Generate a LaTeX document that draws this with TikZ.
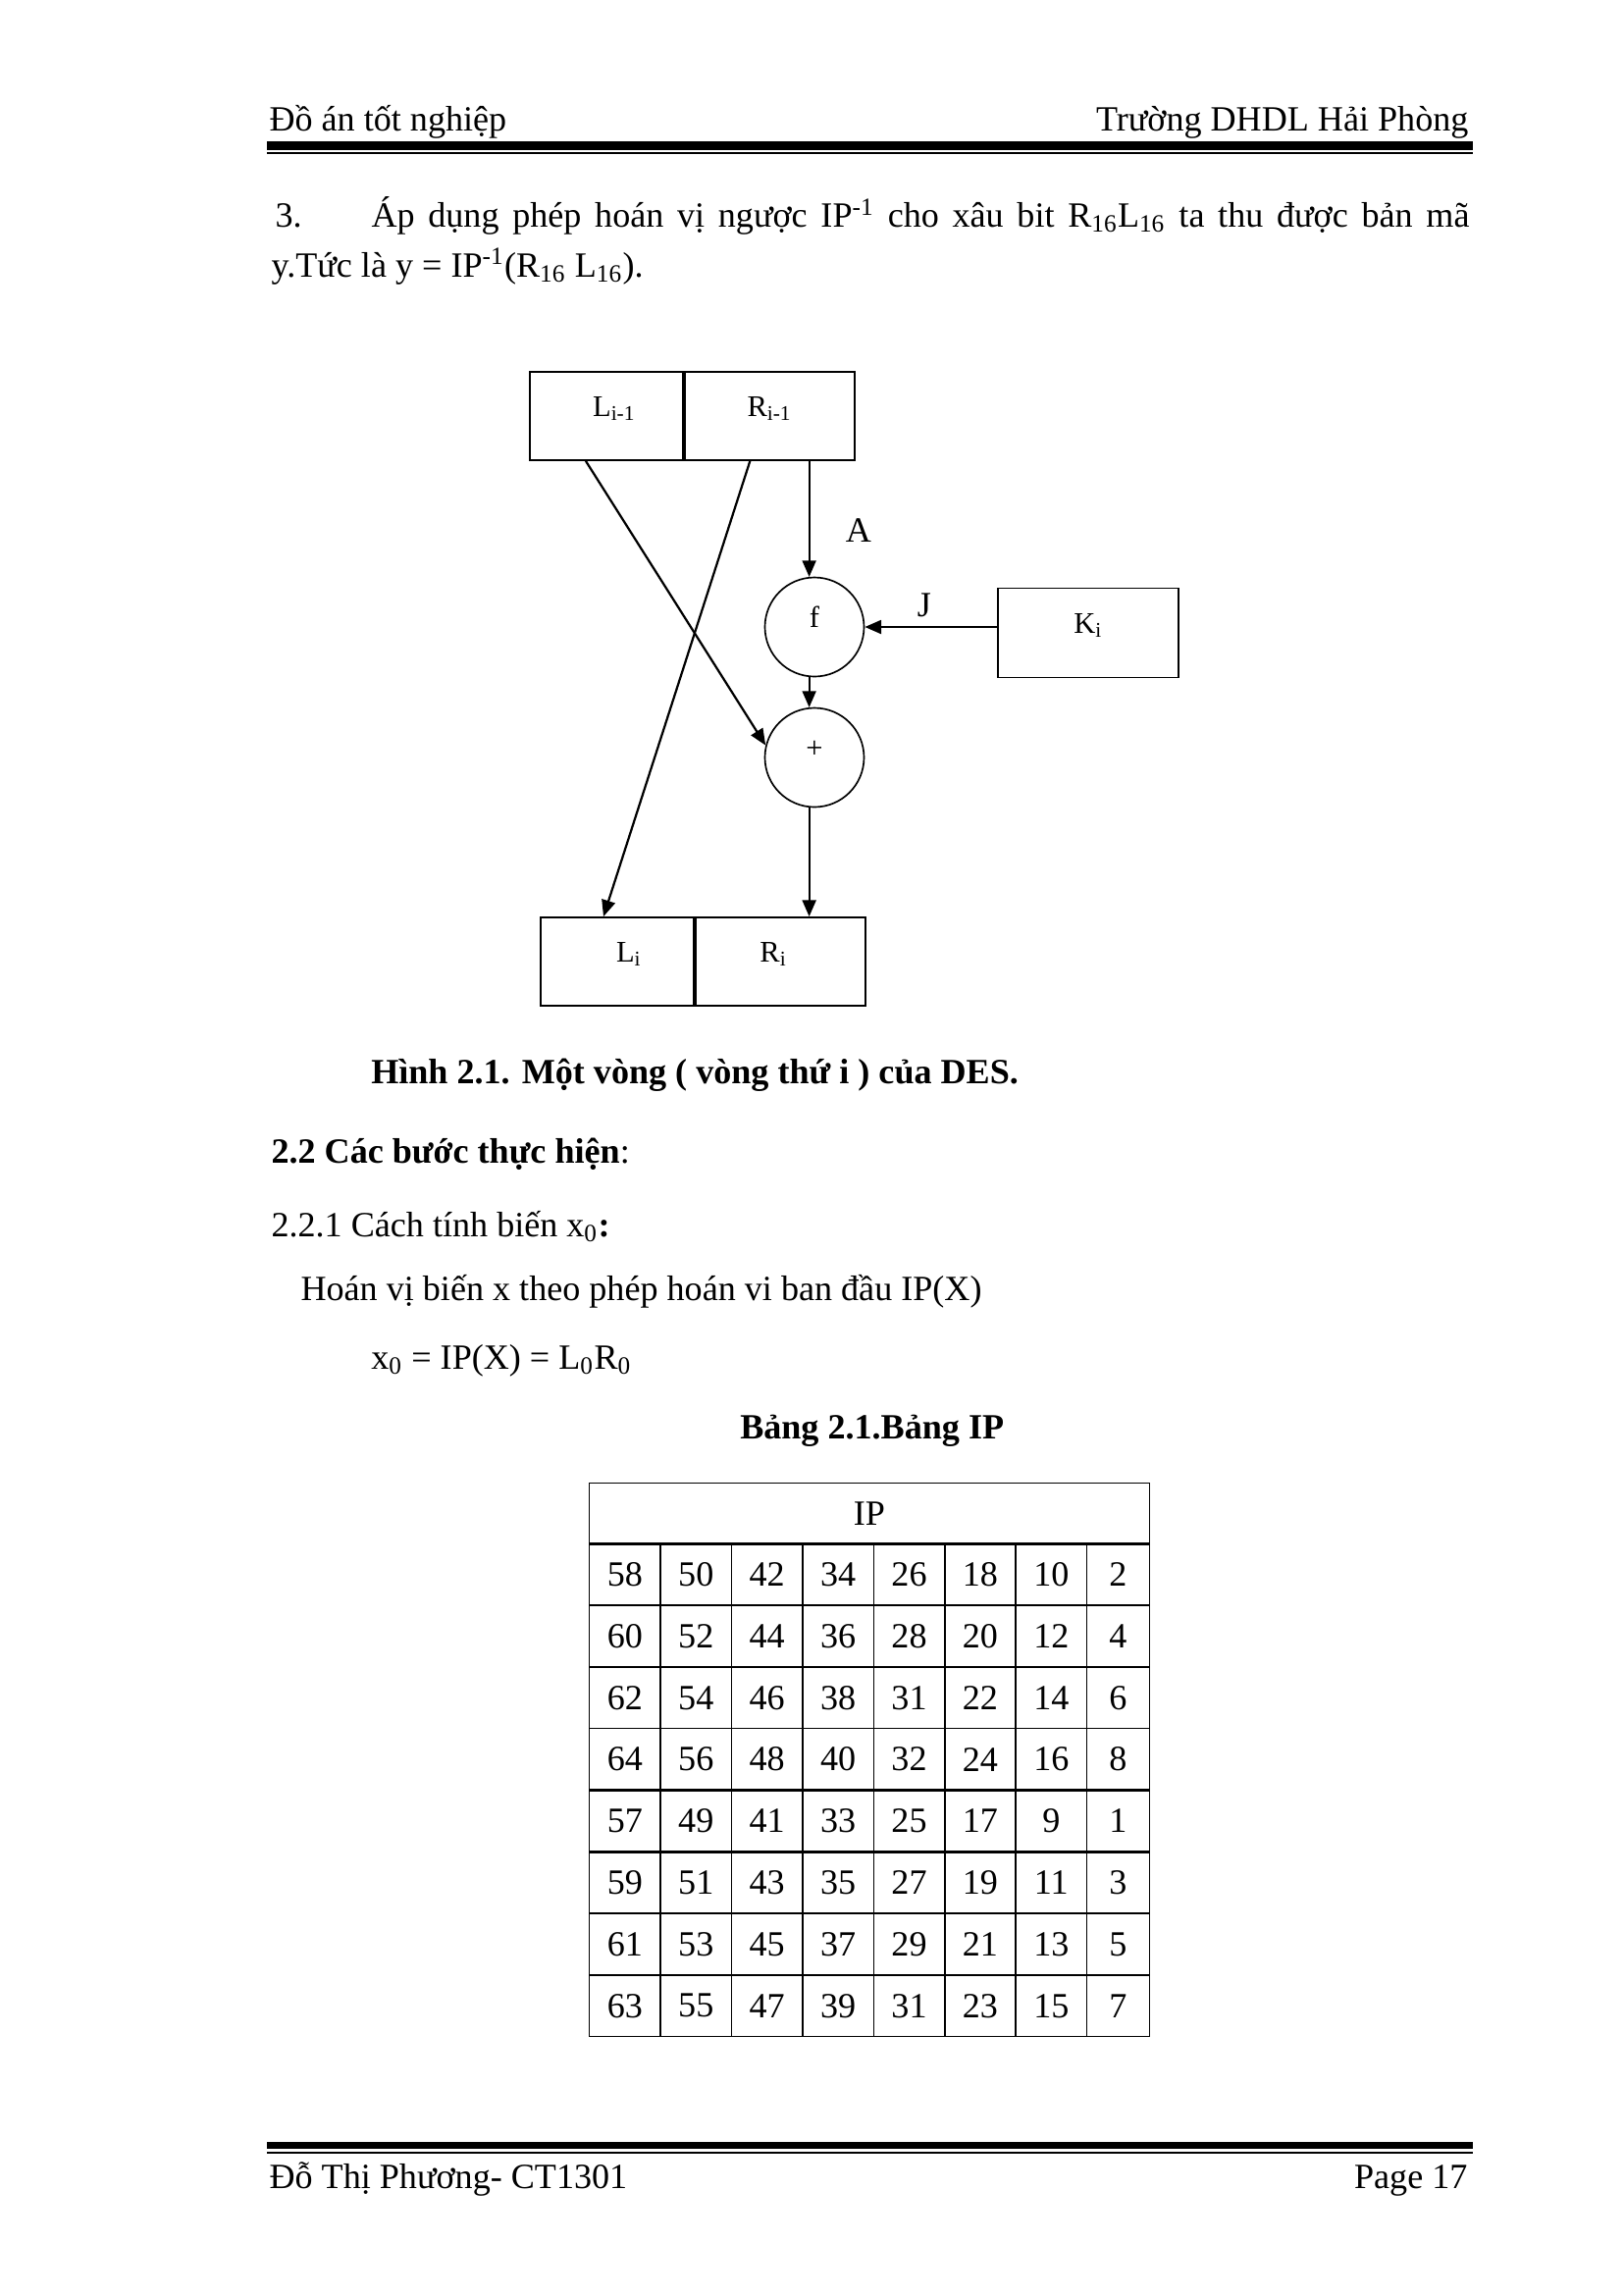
\documentclass[tikz,border=0pt]{standalone}
\usepackage{fontspec}
\setmainfont{Liberation Serif}
\usetikzlibrary{arrows.meta,positioning,calc}
\newlength\pxunit
\setlength\pxunit{0.36pt}
\tikzset{box/.style={draw,line width=0.65pt,inner sep=0pt,minimum height=90*\pxunit,text height=0pt,text depth=0pt,font=\fontsize{11}{13}\selectfont},
op/.style={draw,circle,line width=0.6pt,inner sep=0pt,minimum size=101*\pxunit,text height=0pt,text depth=0pt,font=\fontsize{11}{13}\selectfont},
flow/.style={-{Triangle[length=6pt,width=5pt]},line width=0.8pt},
txt/.style={anchor=base west,inner sep=0pt,font=\fontsize{13}{16}\selectfont},
cell/.style={inner sep=0pt,font=\fontsize{13}{16}\selectfont},
tabline/.style={line width=0.5pt},
tabthick/.style={line width=0.85pt}}

\begin{document}
\begin{tikzpicture}[x=0.36pt,y=-0.36pt]
\fill[white] (0,0) rectangle (1654,2339);
\useasboundingbox (0,0) rectangle (1654,2339);
\node[txt] (headL) at (274,133) {Đồ án tốt nghiệp};
\node[txt,anchor=base east] (headR) at (1497,133) {Trường DHDL Hải Phòng};
\fill (272,144) rectangle (1501,152.5);
\fill (272,155) rectangle (1501,157);
\node[txt] (item) at (280,231.5) {3.};
\node[txt] (itemtext) at (378,231.5) {\makebox[1119\pxunit][s]{Áp dụng phép hoán vị ngược IP\textsuperscript{-1} cho xâu bit R\textsubscript{16}L\textsubscript{16} ta thu được bản mã}};
\node[txt] (itemcont) at (276,282) {y.Tức là y = IP\textsuperscript{-1}(R\textsubscript{16} L\textsubscript{16}).};
\node[box,minimum width=156*\pxunit] (Lprev) at (618,424) {\hspace*{16\pxunit}L\textsubscript{i-1}};
\node[box,minimum width=173*\pxunit,right=0pt of Lprev] (Rprev) {R\textsubscript{i-1}};
\node[op] (f) at (830,639) {f};
\node[op] (plus) at (830,772) {+};
\node[box,minimum width=184*\pxunit,minimum height=91*\pxunit] (Ki) at (1109,645) {K\textsubscript{i}};
\node[box,minimum width=156*\pxunit] (Lcur) at (629,980) {\hspace*{24\pxunit}L\textsubscript{i}};
\node[box,minimum width=173*\pxunit,right=0pt of Lcur] (Rcur) {R\textsubscript{i}\hspace*{14\pxunit}};
\draw[flow] (Rprev.south -| f.96) -- (f.96) node[pos=0.6,right=9.7pt,font=\fontsize{13}{16}\selectfont] (A) {A};
\draw[flow] (f.east -| Ki.west) -- (f.east) node[pos=0.55,above,font=\fontsize{13}{16}\selectfont] (J) {J};
\draw[flow] ($(Lprev.south)+(-21,0)$) -- (plus.166);
\draw[flow] ($(Rprev.south)+(-20,0)$) -- ($(Lcur.north)+(-14,0)$);
\draw[flow] (f.264) -- (plus.96);
\draw[flow] (plus.264) -- (plus.264 |- Rcur.north);
\node[txt] (caption) at (377.7,1104) {\textbf{Hình 2.1. Một vòng ( vòng thứ i ) của DES.}};
\node[txt] (sec) at (276,1185) {\textbf{2.2 Các bước thực hiện}:};
\node[txt] (subsec) at (276,1260) {2.2.1 Cách tính biến x\textsubscript{0}\textbf{:}};
\node[txt] (perm) at (306,1325) {Hoán vị biến x theo phép hoán vi ban đầu IP(X)};
\node[txt] (eq) at (377.7,1395) {x\textsubscript{0} = IP(X) = L\textsubscript{0}R\textsubscript{0}};
\node[txt] (tabcap) at (753.7,1466.7) {\textbf{Bảng 2.1.Bảng IP}};
\draw[tabline] (600.7,1511.7) rectangle (1171.3,2075.7);
\foreach \k in {1,...,7} {
\ifnum\k=5
\draw[tabthick] (600.7+72.4*\k,1573.3) -- (600.7+72.4*\k,2075.7);
\else
\draw[tabline] (600.7+72.4*\k,1573.3) -- (600.7+72.4*\k,2075.7);
\fi}
\foreach \k in {0,...,7} {
\ifnum\k=0
\draw[tabthick] (600.7,1573.3+62.8*\k) -- (1171.3,1573.3+62.8*\k);
\else\ifnum\k>3\ifnum\k<6
\draw[tabthick] (600.7,1573.3+62.8*\k) -- (1171.3,1573.3+62.8*\k);
\else
\draw[tabline] (600.7,1573.3+62.8*\k) -- (1171.3,1573.3+62.8*\k);
\fi\else
\draw[tabline] (600.7,1573.3+62.8*\k) -- (1171.3,1573.3+62.8*\k);
\fi\fi}
\node[cell] (IP) at (886,1542.5) {IP};
\foreach \vals [count=\r] in {{58,50,42,34,26,18,10,2},{60,52,44,36,28,20,12,4},{62,54,46,38,31,22,14,6},{64,56,48,40,32,24,16,8},{57,49,41,33,25,17,9,1},{59,51,43,35,27,19,11,3},{61,53,45,37,29,21,13,5},{63,55,47,39,31,23,15,7}} {
\foreach \v [count=\c] in \vals {
\pgfmathsetmacro\cx{\c<8 ? 564.5+72.4*\c : 1139.4}
\pgfmathsetmacro\cy{1541.9+62.8*\r}
\node[cell] (c\r-\c) at (\cx,\cy) {\v};
}}
\fill (272,2182.7) rectangle (1501,2190);
\fill (272,2192.7) rectangle (1501,2194.7);
\node[txt] (footL) at (274,2230) {Đỗ Thị Phương- CT1301};
\node[txt,anchor=base east] (footR) at (1496,2230) {Page 17};
\end{tikzpicture}
\end{document}
